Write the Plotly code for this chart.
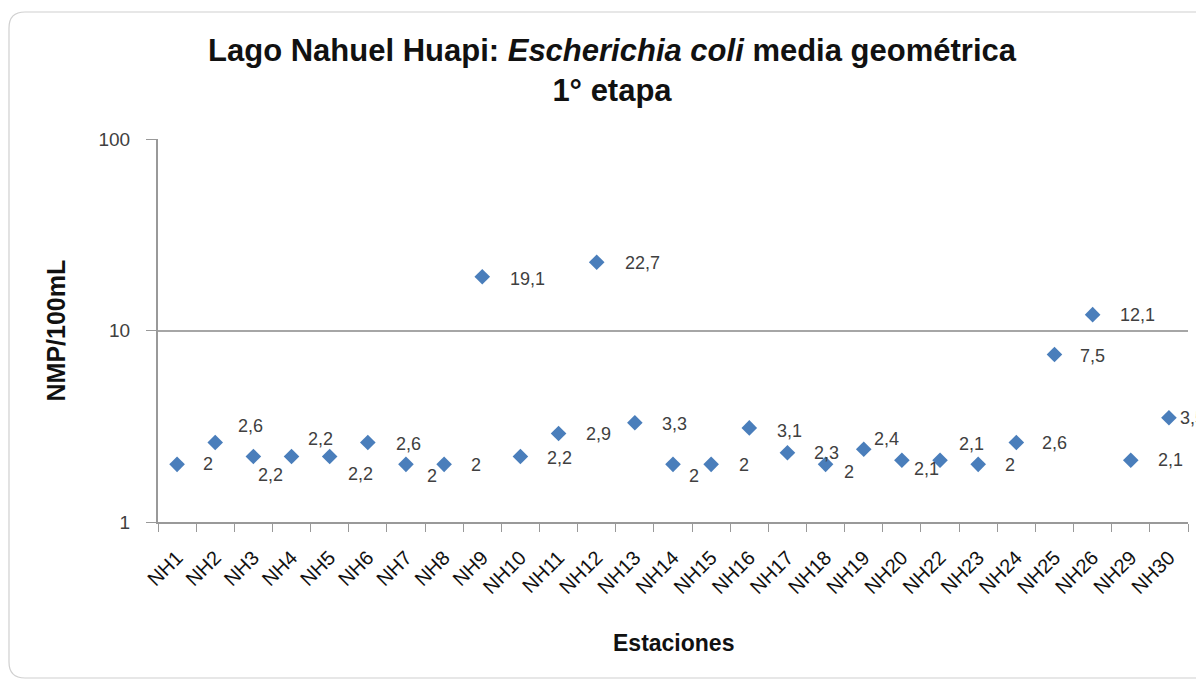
import math
import plotly.graph_objects as go

# ---- data ----
stations = ["NH1", "NH2", "NH3", "NH4", "NH5", "NH6", "NH7", "NH8", "NH9", "NH10",
            "NH11", "NH12", "NH13", "NH14", "NH15", "NH16", "NH17", "NH18", "NH19", "NH20",
            "NH22", "NH23", "NH24", "NH25", "NH26", "NH29", "NH30"]
ecoli_gm = [2, 2.6, 2.2, 2.2, 2.2, 2.6, 2, 2, 19.1, 2.2,
            2.9, 22.7, 3.3, 2, 2, 3.1, 2.3, 2, 2.4, 2.1,
            2.1, 2, 2.6, 7.5, 12.1, 2.1, 3.5]
value_labels = ["2", "2,6", "2,2", "2,2", "2,2", "2,6", "2", "2", "19,1", "2,2",
                "2,9", "22,7", "3,3", "2", "2", "3,1", "2,3", "2", "2,4", "2,1",
                "2,1", "2", "2,6", "7,5", "12,1", "2,1", "3,5"]
y_ticks = [1, 10, 100]
y_tick_text = ["1", "10", "100"]

# ---- label offsets (px): left edge from marker centre, vertical (down positive) ----
label_dx = [24, 21, 3, 14, 16, 26, 19, 25, 26, 25,
            25, 26, 25, 14, 26, 26, 25, 16, 8, 10,
            17, 25, 24, 24, 25, 25, 9]
label_dy = [0, -17, 19, -17, 18, 1, 12, 1, 2, 2,
            1, 1, 1, 12, 1, 3, 0, 8, -10, 9,
            -16, 1, 0, 2, 0, 0, 0]

FONT = "Liberation Sans, Arial, sans-serif"
BLUE = "#4a7ebb"

fig = go.Figure()
fig.add_trace(go.Scatter(
    x=stations, y=ecoli_gm, mode="markers",
    marker=dict(symbol="diamond", size=12, color=BLUE, line=dict(width=0)),
    showlegend=False, hoverinfo="x+y",
))

annotations = []
for st, v, lab, dx, dy in zip(stations, ecoli_gm, value_labels, label_dx, label_dy):
    annotations.append(dict(
        x=st, y=math.log10(v), xref="x", yref="y", text=lab, showarrow=False,
        xanchor="left", yanchor="middle", xshift=dx, yshift=-dy,
        font=dict(family=FONT, size=18, color="#404040"),
    ))

# axis titles
annotations.append(dict(
    x=0.5, y=-0.316, xref="paper", yref="paper", text="<b>Estaciones</b>",
    showarrow=False, xanchor="center", yanchor="middle",
    font=dict(family=FONT, size=23, color="#111111"),
))
annotations.append(dict(
    x=-0.1, y=0.5, xref="paper", yref="paper", text="<b>NMP/100mL</b>",
    showarrow=False, xanchor="center", yanchor="middle", textangle=-90,
    font=dict(family=FONT, size=25, color="#111111"),
))

# figure geometry (page has an 8px body margin)
FIG_W, FIG_H = 1196, 673
L, T, W, H = 150.0, 131.0, 1030.0, 383.0

def px(xp):
    return (xp - L) / W

def py(yp):
    return (T + H - yp) / H

# outer rounded frame (decoration)
r = 16
x0, y0, x1, y1 = 1, 4, 1230, 670
path = (f"M {px(x0)},{py(y0 + r)} "
        f"Q {px(x0)},{py(y0)} {px(x0 + r)},{py(y0)} "
        f"L {px(x1)},{py(y0)} "
        f"M {px(x0)},{py(y0 + r)} "
        f"L {px(x0)},{py(y1 - r)} "
        f"Q {px(x0)},{py(y1)} {px(x0 + r)},{py(y1)} "
        f"L {px(x1)},{py(y1)}")

fig.update_layout(
    width=FIG_W, height=FIG_H,
    margin=dict(l=L, r=FIG_W - L - W, t=T, b=FIG_H - T - H, autoexpand=False),
    paper_bgcolor="white", plot_bgcolor="white",
    title=dict(
        text="<b>Lago Nahuel Huapi: <i>Escherichia coli</i> media geométrica<br>1° etapa</b>",
        x=604 / FIG_W, xref="container", xanchor="center",
        y=1 - 53 / FIG_H, yref="container", yanchor="top",
        font=dict(family=FONT, size=31, color="#111111"),
    ),
    annotations=annotations,
    shapes=[dict(type="path", xref="paper", yref="paper", path=path,
                 line=dict(color="#d0d0d0", width=1.2), layer="below")],
    xaxis=dict(
        type="category", range=[-0.5, len(stations) - 0.5],
        tickson="boundaries", ticks="outside", ticklen=8, tickcolor="#999999",
        tickangle=-45, ticklabelstandoff=14,
        showline=True, linecolor="#999999", linewidth=2,
        showgrid=False, zeroline=False, automargin=False,
        tickfont=dict(family=FONT, size=20, color="#111111"),
    ),
    yaxis=dict(
        type="log", range=[0, 2], tickvals=y_ticks, ticktext=y_tick_text,
        ticks="outside", ticklen=10, tickcolor="#999999", ticklabelstandoff=12,
        showline=True, linecolor="#999999", linewidth=2, automargin=False,
        showgrid=True, gridcolor="#a6a6a6", gridwidth=2, zeroline=False,
        tickfont=dict(family=FONT, size=19, color="#404040"),
    ),
)

fig.write_html("out.html")
